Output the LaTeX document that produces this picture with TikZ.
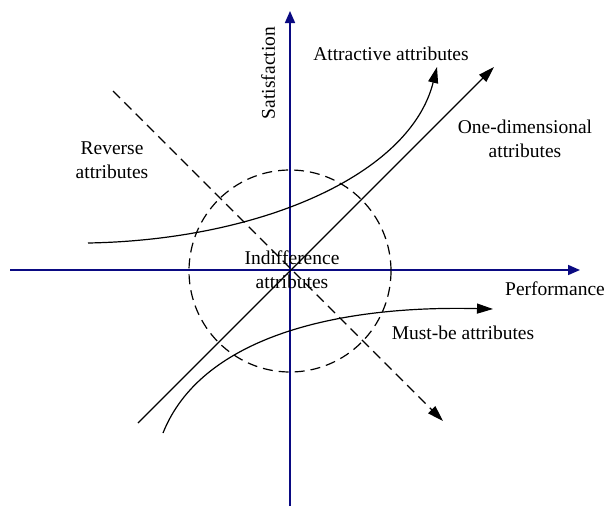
\documentclass[tikz,border=0pt]{standalone}
\usepackage{fontspec}
\setmainfont{Liberation Serif}
\usetikzlibrary{arrows.meta}
\definecolor{axisblue}{RGB}{10,10,130}
\tikzset{
  axis/.style={draw=axisblue, line width=1.7pt, -{Triangle[length=12pt,width=10pt]}},
  curve/.style={draw=black, line width=1.2pt, -{Triangle[length=16pt,width=10pt]}},
  dashline/.style={draw=black, line width=1.2pt, dash pattern=on 10pt off 6pt},
  lbl/.style={inner sep=0pt, align=center, font=\fontsize{19.5}{24}\selectfont},
}
\begin{document}
\begin{tikzpicture}[x=1pt,y=-1pt]
\useasboundingbox (0,0) rectangle (605,506);
% axes
\coordinate (hx0) at (10,270);
\coordinate (hx1) at (580,270);
\coordinate (vy0) at (290,506);
\coordinate (vy1) at (290,11);
\draw[axis] (hx0) -- (hx1);
\draw[axis] (vy0) -- (vy1);
% circle
\coordinate (o) at (290,271);
\draw[dashline] (o) circle (101);
% reverse dashed line
\coordinate (r0) at (113,91);
\coordinate (r1) at (443,421);
\draw[dashline, -{Triangle[length=16pt,width=10pt]}] (r0) -- (r1);
% one-dimensional
\coordinate (d0) at (138,423);
\coordinate (d1) at (494,67);
\draw[curve] (d0) -- (d1);
% attractive
\coordinate (a0) at (88,243);
\coordinate (a1) at (437,67);
\draw[curve] (a0) .. controls (260,240) and (410,175) .. (a1);
% must-be
\coordinate (m0) at (163,433);
\coordinate (m1) at (493,309);
\draw[curve] (m0) .. controls (200,340) and (330,305) .. (m1);
% labels
\node[lbl] (att) at (391,54) {Attractive attributes};
\node[lbl] (one) at (525,139) {One-dimensional\\attributes};
\node[lbl] (rev) at (112,160) {Reverse\\attributes};
\node[lbl] (ind) at (292,270) {Indifference\\attributes};
\node[lbl] (must) at (463,333) {Must-be attributes};
\node[lbl] (perf) at (555,289) {Performance};
\node[lbl, rotate=90] (sat) at (268,73) {Satisfaction};
\end{tikzpicture}
\end{document}
